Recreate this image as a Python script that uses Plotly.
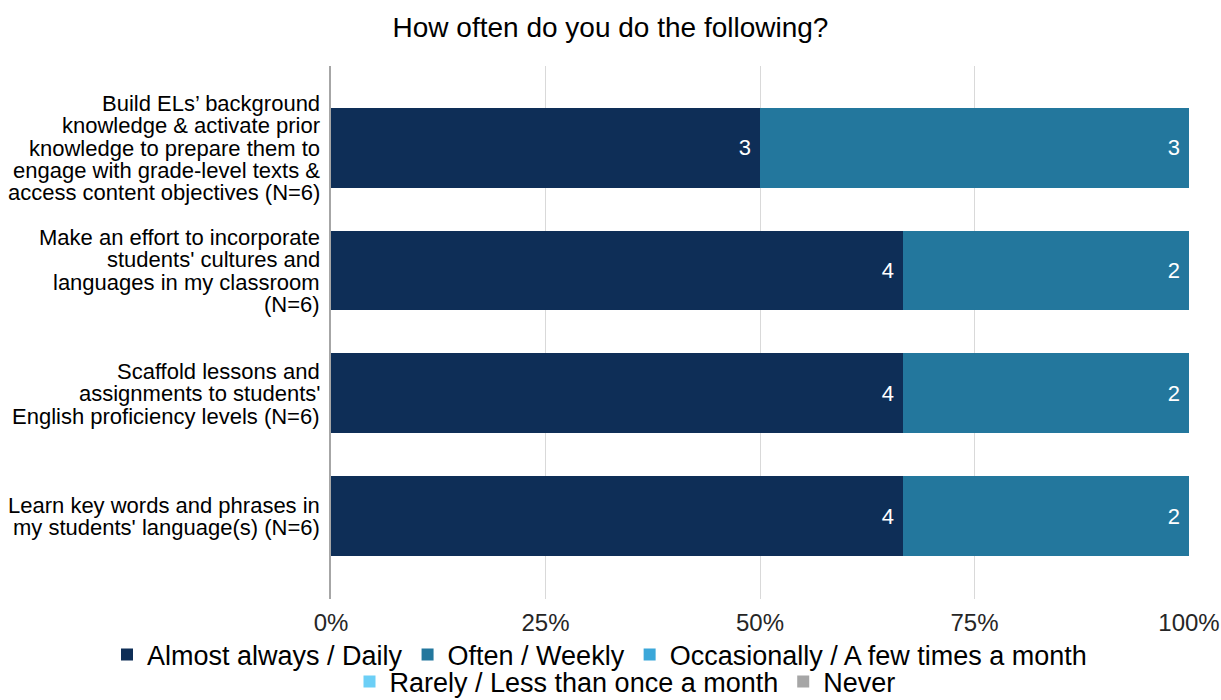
import plotly.graph_objects as go

categories = [
    "Build ELs’ background<br>knowledge & activate prior<br>knowledge to prepare them to<br>engage with grade-level texts &<br>access content objectives (N=6)",
    "Make an effort to incorporate<br>students' cultures and<br>languages in my classroom<br>(N=6)",
    "Scaffold lessons and<br>assignments to students'<br>English proficiency levels (N=6)",
    "Learn key words and phrases in<br>my students' language(s) (N=6)",
]
series_names = [
    "Almost always / Daily",
    "Often / Weekly",
    "Occasionally / A few times a month",
    "Rarely / Less than once a month",
    "Never",
]
counts = {
    "Almost always / Daily": [3, 4, 4, 4],
    "Often / Weekly": [3, 2, 2, 2],
    "Occasionally / A few times a month": [0, 0, 0, 0],
    "Rarely / Less than once a month": [0, 0, 0, 0],
    "Never": [0, 0, 0, 0],
}
colors = ["#0e2e57", "#23779d", "#3ba7d9", "#6ccff6", "#a6a6a6"]
totals = [6, 6, 6, 6]
tick_vals = [0, 0.25, 0.5, 0.75, 1]
tick_text = ["0%", "25%", "50%", "75%", "100%"]

FONT = "Liberation Sans, Arial, sans-serif"

fig = go.Figure()
for i, (name, col) in enumerate(zip(series_names, colors)):
    vals = counts[name]
    pct = [v / t for v, t in zip(vals, totals)]
    fig.add_trace(go.Bar(
        y=categories, x=pct, name=name, orientation="h",
        marker=dict(color=col, line=dict(width=0)),
        text=[(str(v) + "\u00a0") if v else "" for v in vals],
        textposition="inside", insidetextanchor="end",
        textfont=dict(color="white", size=22, family=FONT),
        width=0.65,
        hoverinfo="skip",
        legend="legend" if i < 3 else "legend2",
    ))

# category labels drawn line by line (tight line spacing like the original)
line_pitch = 22.4
for cat in categories:
    lines = cat.split("<br>")
    n = len(lines)
    for j, ln in enumerate(lines):
        fig.add_annotation(
            x=0, xref="paper", y=cat, yref="y",
            text=ln, showarrow=False, xanchor="right", yanchor="middle",
            xshift=-9, yshift=((n - 1) / 2 - j) * line_pitch - 0.5,
            font=dict(size=22, color="#000000", family=FONT),
        )

legend_font = dict(size=27, color="#000000", family=FONT)

fig.update_layout(
    barmode="stack",
    width=1221, height=700,
    paper_bgcolor="white", plot_bgcolor="white",
    font=dict(family=FONT, color="#000000"),
    title=dict(text="How often do you do the following?", x=0.5, xanchor="center",
               xref="container", yref="container",
               y=1 - 27 / 700, yanchor="middle", font=dict(size=28, color="#000000")),
    margin=dict(l=331, r=32, t=66, b=101, autoexpand=False),
    xaxis=dict(range=[0, 1], tickvals=tick_vals, ticktext=tick_text,
               showgrid=True, gridcolor="#d9d9d9", gridwidth=1,
               zeroline=False, tickfont=dict(size=24, color="#262626"),
               ticks="", showline=False, ticklabelstandoff=7),
    yaxis=dict(categoryorder="array", categoryarray=categories[::-1],
               range=[-0.675, 3.665], showticklabels=False,
               showline=True, linecolor="#a6a6a6", linewidth=2, ticks=""),
    legend=dict(orientation="h", xref="paper", yref="paper",
                x=(107 - 331) / 858, xanchor="left",
                y=(599 - 655) / 533, yanchor="middle",
                font=legend_font, itemwidth=30, traceorder="normal",
                bgcolor="rgba(0,0,0,0)"),
    legend2=dict(orientation="h", xref="container", yref="container",
                 x=625 / 1221, xanchor="center", y=1 - 682 / 700, yanchor="middle",
                 font=legend_font, itemwidth=30, traceorder="normal",
                 bgcolor="rgba(0,0,0,0)"),
    showlegend=True,
)

fig.write_html("out.html", config={"displayModeBar": False},
               post_script="document.body.style.margin='0';document.body.style.overflow='hidden';")
